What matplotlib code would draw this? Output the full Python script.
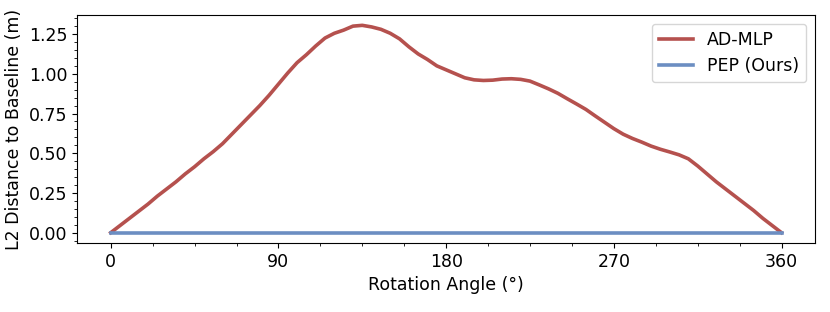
import matplotlib
matplotlib.use("Agg")
import matplotlib.pyplot as plt
from matplotlib.ticker import MultipleLocator, FormatStrFormatter

# rotation angle in degrees, read every 5 deg off the reference
angles = list(range(0, 365, 5))
ad_mlp = [0.000, 0.045, 0.090, 0.135, 0.180, 0.230, 0.275, 0.320, 0.370, 0.415,
          0.465, 0.510, 0.560, 0.620, 0.680, 0.740, 0.800, 0.865, 0.935, 1.005,
          1.070, 1.120, 1.175, 1.225, 1.255, 1.275, 1.300, 1.305, 1.295, 1.280,
          1.255, 1.220, 1.170, 1.125, 1.090, 1.050, 1.025, 1.000, 0.975, 0.962,
          0.958, 0.960, 0.967, 0.969, 0.965, 0.954, 0.930, 0.905, 0.877, 0.843,
          0.810, 0.776, 0.735, 0.695, 0.655, 0.620, 0.593, 0.570, 0.545, 0.525,
          0.508, 0.490, 0.465, 0.420, 0.370, 0.320, 0.275, 0.230, 0.185, 0.140,
          0.090, 0.045, 0.000]
pep = [0.0] * len(angles)

FS = 12.5

fig = plt.figure(figsize=(8.3, 3.12), dpi=100)
ax = fig.add_axes([0.093, 0.221, 0.889, 0.731])

ax.plot(angles, ad_mlp, color="#b5514e", lw=2.6, label="AD-MLP")
ax.plot(angles, pep, color="#6c8ec2", lw=2.6, label="PEP (Ours)")

ax.set_xticks([0, 90, 180, 270, 360])
ax.xaxis.set_minor_locator(MultipleLocator(22.5))
ax.yaxis.set_major_locator(MultipleLocator(0.25))
ax.yaxis.set_minor_locator(MultipleLocator(0.05))
ax.yaxis.set_major_formatter(FormatStrFormatter("%.2f"))
ax.tick_params(labelsize=FS)

ax.set_xlabel("Rotation Angle (°)", fontsize=FS)
ax.set_ylabel("L2 Distance to Baseline (m)", fontsize=FS)
ax.legend(loc="upper right", fontsize=FS)

fig.savefig("out.png", dpi=100)
